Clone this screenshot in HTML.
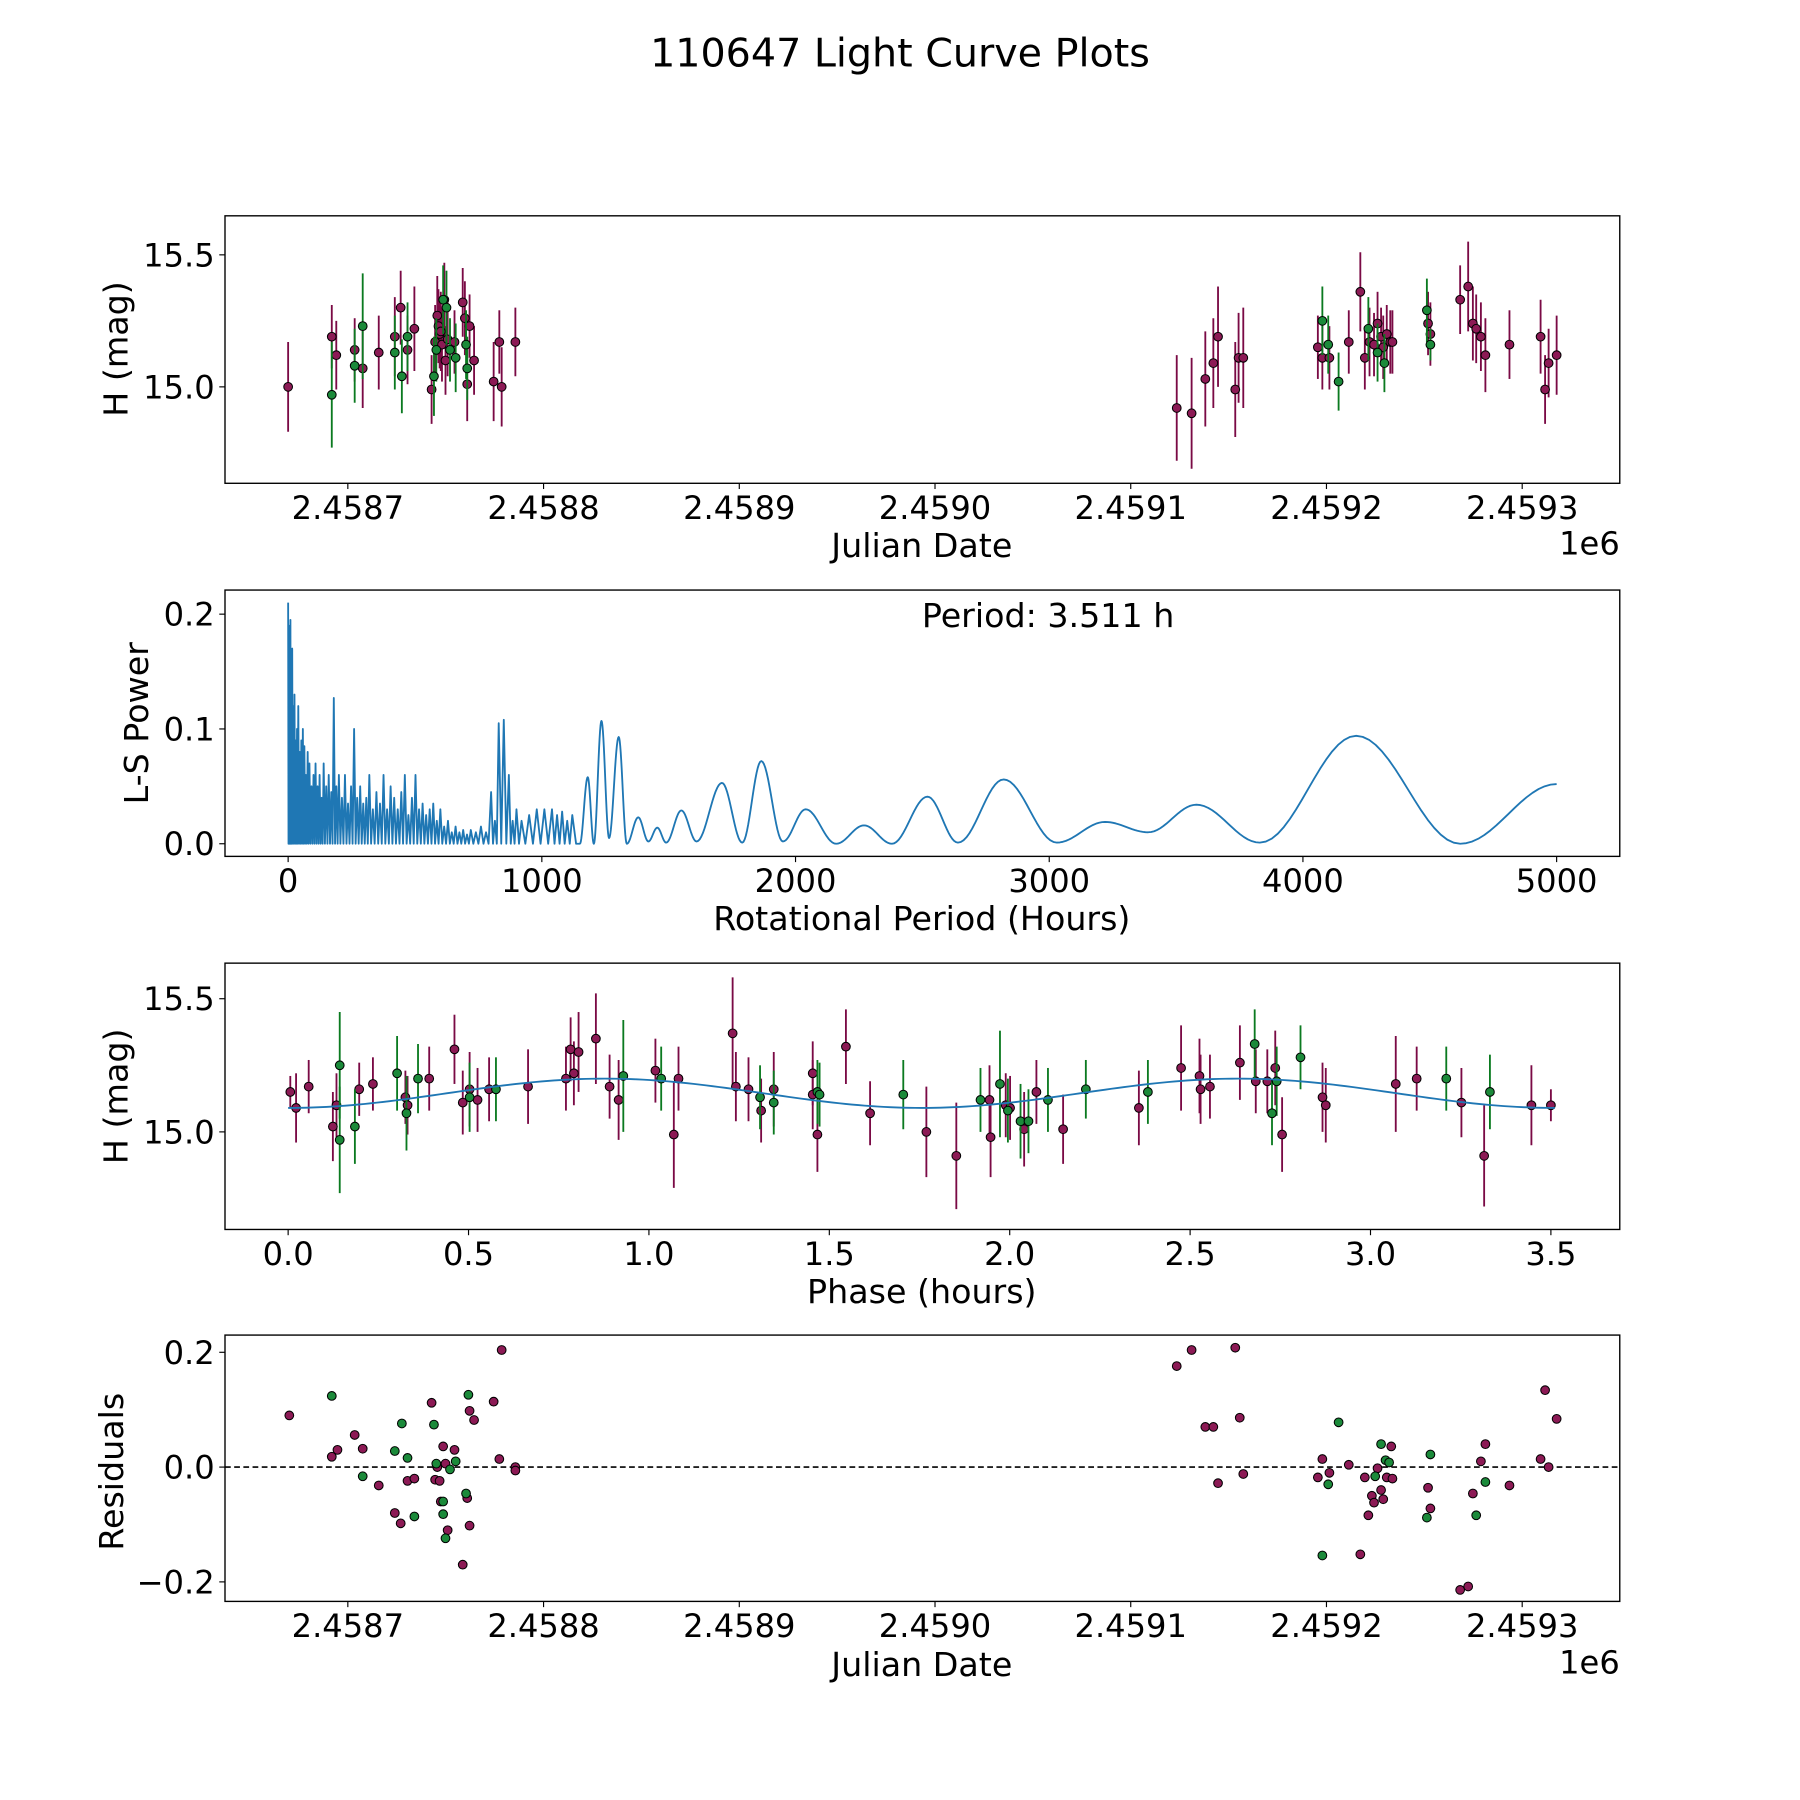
<!DOCTYPE html>
<html><head><meta charset="utf-8"><style>
html,body{margin:0;padding:0;background:#fff;}
svg{display:block;font-family:"DejaVu Sans","Liberation Sans",sans-serif;}
</style></head><body>
<svg id="fig" xmlns="http://www.w3.org/2000/svg" width="1800" height="1800" viewBox="0 0 1568 1568">
<rect width="1568" height="1568" fill="#fff"/>
<text x="784" y="58" font-size="34.5" text-anchor="middle">110647 Light Curve Plots</text>
</svg>
<script>
// ---------- DATA ----------
const JD_BASE = 2458700;
const lcPurpleDays = [-30.5,-8.2,-5.9,3.5,7.6,15.8,24.0,27.0,30.5,34.0,42.8,44.6,45.7,46.3,46.9,47.5,48.1,49.3,49.9,51.0,54.5,58.7,59.8,61.0,62.2,64.5,74.5,77.4,78.6,85.6,
 423.5,431.1,438.1,442.2,444.6,453.4,455.1,457.5,495.6,497.9,501.5,511.4,517.3,519.6,522.0,524.3,526.1,527.9,529.0,530.8,532.6,533.7,551.9,553.1,568.3,572.4,574.8,576.5,578.9,581.2,593.5,609.4,611.7,613.5,617.6];
const lcPurpleMag = [15.00,15.19,15.12,15.14,15.07,15.13,15.19,15.30,15.14,15.22,14.99,15.17,15.27,15.23,15.20,15.21,15.16,15.33,15.10,15.18,15.17,15.32,15.26,15.01,15.23,15.10,15.02,15.17,15.00,15.17,
 14.92,14.90,15.03,15.09,15.19,14.99,15.11,15.11,15.15,15.11,15.11,15.17,15.36,15.11,15.17,15.16,15.24,15.19,15.15,15.20,15.17,15.17,15.24,15.20,15.33,15.38,15.24,15.22,15.19,15.12,15.16,15.19,14.99,15.09,15.12];
const lcPurpleErr = [0.17,0.12,0.13,0.12,0.15,0.14,0.15,0.14,0.13,0.16,0.13,0.14,0.15,0.14,0.13,0.15,0.14,0.14,0.13,0.14,0.12,0.13,0.14,0.14,0.12,0.13,0.15,0.12,0.15,0.13,
 0.20,0.21,0.18,0.17,0.19,0.18,0.17,0.19,0.12,0.12,0.12,0.12,0.15,0.12,0.13,0.12,0.12,0.11,0.12,0.11,0.12,0.12,0.12,0.12,0.13,0.17,0.14,0.13,0.13,0.14,0.13,0.14,0.13,0.13,0.15];
const lcGreenDays = [-8.2,3.5,7.6,24.0,27.6,30.5,44.0,45.2,48.7,50.4,52.2,55.1,60.4,61.0,497.9,500.9,506.2,521.4,526.1,529.6,551.3,553.1];
const lcGreenMag = [14.97,15.08,15.23,15.13,15.04,15.19,15.04,15.14,15.33,15.30,15.14,15.11,15.16,15.07,15.25,15.16,15.02,15.22,15.13,15.09,15.29,15.16];
const lcGreenErr = [0.20,0.14,0.20,0.14,0.14,0.13,0.15,0.12,0.13,0.14,0.12,0.13,0.13,0.12,0.13,0.11,0.11,0.12,0.11,0.11,0.12,0.06];
const lsDensePeriods = [0,3,6,9,12,16,20,25,30,35,40,46,52,58,64,70,77,84,92,100,108,116,124,132,140,150,160,170,180,190,200,212,224,236,248,260,272,284,296,308,320,334,348,362,376,390,404,418,432,446,460,474,488,502,516,530,544,558,572,586,600,615,630,645,660,675,690,705,720,740,760,780,800,815,830,850,870,885,900,920,950,980,1010,1040,1060,1080,1100,1120];
const lsDensePower = [0.21,0.19,0.17,0.195,0.165,0.17,0.12,0.13,0.09,0.1,0.12,0.08,0.09,0.1,0.085,0.06,0.08,0.07,0.05,0.06,0.07,0.05,0.06,0.04,0.07,0.05,0.06,0.045,0.127,0.05,0.06,0.04,0.06,0.035,0.05,0.1,0.04,0.05,0.035,0.04,0.06,0.03,0.045,0.035,0.06,0.03,0.05,0.04,0.03,0.045,0.06,0.025,0.04,0.06,0.03,0.035,0.025,0.03,0.035,0.02,0.03,0.015,0.02,0.01,0.015,0.01,0.012,0.008,0.012,0.01,0.015,0.01,0.045,0.02,0.105,0.108,0.06,0.02,0.03,0.02,0.025,0.03,0.03,0.03,0.025,0.028,0.02,0.025];
const lsSmoothPeriods = [1150,1181,1205,1235,1265,1303,1335,1380,1420,1455,1490,1550,1610,1710,1790,1865,1950,2040,2160,2270,2380,2520,2640,2820,3030,3220,3390,3580,3830,4210,4620,5000];
const lsSmoothPower = [0,0.058,0,0.107,0.005,0.093,0,0.023,0.002,0.014,0.001,0.029,0.002,0.053,0.001,0.072,0.002,0.03,0,0.016,0,0.041,0.001,0.056,0.001,0.019,0.01,0.034,0.001,0.094,0,0.052];
const bestPeriod = 3.511;
const phPurplePhase = [0.006,0.022,0.057,0.124,0.134,0.197,0.235,0.325,0.331,0.391,0.461,0.484,0.503,0.525,0.557,0.665,0.77,0.783,0.792,0.805,0.853,0.891,0.916,1.018,1.069,1.082,1.232,1.241,1.276,1.311,1.346,1.454,1.454,1.467,1.546,1.613,1.769,1.852,1.944,1.947,1.989,2.001,2.04,2.074,2.148,2.358,2.475,2.526,2.529,2.555,2.638,2.682,2.714,2.736,2.755,2.867,2.876,3.07,3.128,3.252,3.315,3.446,3.50];
const phPurpleMag = [15.15,15.09,15.17,15.02,15.10,15.16,15.18,15.13,15.10,15.20,15.31,15.11,15.16,15.12,15.16,15.17,15.20,15.31,15.22,15.30,15.35,15.17,15.12,15.23,14.99,15.20,15.37,15.17,15.16,15.08,15.16,15.22,15.14,14.99,15.32,15.07,15.00,14.91,15.12,14.98,15.10,15.09,15.01,15.15,15.01,15.09,15.24,15.21,15.16,15.17,15.26,15.19,15.19,15.24,14.99,15.13,15.10,15.18,15.20,15.11,14.91,15.10,15.10];
const phPurpleErr = [0.06,0.13,0.1,0.13,0.12,0.1,0.1,0.1,0.11,0.12,0.13,0.12,0.14,0.12,0.12,0.14,0.12,0.12,0.12,0.15,0.17,0.12,0.15,0.12,0.2,0.12,0.21,0.13,0.12,0.12,0.14,0.12,0.13,0.14,0.14,0.12,0.17,0.2,0.13,0.15,0.12,0.12,0.14,0.12,0.13,0.14,0.16,0.14,0.13,0.12,0.14,0.12,0.12,0.14,0.14,0.13,0.14,0.18,0.12,0.13,0.19,0.15,0.06];
const phGreenPhase = [0.143,0.143,0.185,0.302,0.328,0.36,0.503,0.576,0.929,1.034,1.308,1.346,1.467,1.473,1.705,1.919,1.973,1.995,2.03,2.052,2.106,2.211,2.383,2.679,2.727,2.74,2.806,3.21,3.331];
const phGreenMag = [15.25,14.97,15.02,15.22,15.07,15.20,15.13,15.16,15.21,15.20,15.13,15.11,15.15,15.14,15.14,15.12,15.18,15.08,15.04,15.04,15.12,15.16,15.15,15.33,15.07,15.19,15.28,15.20,15.15];
const phGreenErr = [0.2,0.2,0.14,0.14,0.14,0.13,0.13,0.12,0.21,0.12,0.12,0.12,0.12,0.12,0.13,0.12,0.2,0.12,0.14,0.12,0.12,0.11,0.12,0.13,0.12,0.13,0.12,0.12,0.14];
const fitMean = 15.145, fitAmp = 0.055, fitPeriod = 1.755, fitPhase0 = 0.44;
const resPurpleDays = [-29.9,-8.2,-5.3,3.5,7.6,15.8,24,27,30.5,34,42.8,44.6,45.7,46.9,47.5,48.7,49.9,51,54.5,58.7,61,62.2,64.5,62.2,74.5,77.4,78.6,85.6,85.6,
 423.5,431.1,438.1,442.2,444.6,453.4,455.7,457.5,495.6,497.9,501.5,511.4,517.3,519.6,521.4,523.2,524.3,526.1,527.9,529,530.8,533.1,533.7,551.9,553.1,568.3,572.4,574.8,578.9,581.2,593.5,609.4,611.7,613.5,617.6];
const resPurpleVal = [0.09,0.018,0.03,0.056,0.032,-0.032,-0.08,-0.098,-0.024,-0.02,0.112,-0.022,0,-0.024,-0.06,0.036,0.006,-0.11,0.03,-0.17,-0.054,0.098,0.082,-0.102,0.114,0.014,0.204,0,-0.006,
 0.176,0.204,0.07,0.07,-0.028,0.208,0.086,-0.012,-0.018,0.014,-0.01,0.004,-0.152,-0.018,-0.084,-0.05,-0.062,-0.002,-0.04,-0.056,-0.018,0.036,-0.02,-0.036,-0.072,-0.214,-0.208,-0.046,0.01,0.04,-0.032,0.014,0.134,0,0.084];
const resGreenDays = [-8.2,7.6,24,27.6,30.5,34,44,45.2,48.7,49.9,52.2,55.1,60.4,61.6,48.7,497.9,500.9,506.2,524.9,527.9,530.2,532,551.3,553.1,576.5,581.2];
const resGreenVal = [0.124,-0.016,0.028,0.076,0.016,-0.086,0.074,0.006,-0.082,-0.124,-0.004,0.01,-0.046,0.126,-0.06,-0.154,-0.03,0.078,-0.016,0.04,0.012,0.008,-0.088,0.022,-0.084,-0.026];

// ---------- DRAWING ----------
const NS='http://www.w3.org/2000/svg';
const svg=document.getElementById('fig');
function el(tag,attrs,parent){const e=document.createElementNS(NS,tag);for(const k in attrs)e.setAttribute(k,attrs[k]);(parent||svg).appendChild(e);return e;}
const L=196,R=1411;
const TF=28, LF=29;
const PUR='#8c1a55',PURE='#7a0a45',GRN='#1b8a3a',GRNE='#0b7a20',BLUE='#1f77b4';
function lin(d0,d1,p0,p1){return v=>p0+(v-d0)*(p1-p0)/(d1-d0);}

function axesFrame(g,top,bot){
  const r=el('rect',{x:L,y:top,width:R-L,height:bot-top,fill:'none',stroke:'#000','stroke-width':1.2},g);
  
  
}
function xTicks(g,sx,bot,vals,labels,name){
  vals.forEach((v,i)=>{const x=sx(v);
    const t=el('line',{x1:x,x2:x,y1:bot,y2:bot+5,stroke:'#000','stroke-width':1},g);
    
    
    const tx=el('text',{x:x,y:bot+31,'font-size':TF,'text-anchor':'middle'},g);tx.textContent=labels[i];
    
    
  });
}
function yTicks(g,sy,vals,labels,name){
  vals.forEach((v,i)=>{const y=sy(v);
    const t=el('line',{x1:L-5,x2:L,y1:y,y2:y,stroke:'#000','stroke-width':1},g);
    
    
    const tx=el('text',{x:L-9,y:y+10,'font-size':TF,'text-anchor':'end'},g);tx.textContent=labels[i];
    
    
  });
}
function label(g,x,y,txt,name,rot){
  const t=el('text',{x:x,y:y,'font-size':LF,'text-anchor':'middle'},g);t.textContent=txt;
  if(rot)t.setAttribute('transform','rotate(-90 '+x+' '+y+')');
  
  
}
function errPts(g,sx,sy,xs,ys,es,col,ecol,name){
  xs.forEach((xv,i)=>{const x=sx(xv);
    if(es){const b=el('line',{x1:x,x2:x,y1:sy(ys[i]-es[i]),y2:sy(ys[i]+es[i]),stroke:ecol,'stroke-width':1.6},g);
      
      }
  });
  xs.forEach((xv,i)=>{
    const c=el('circle',{cx:sx(xv),cy:sy(ys[i]),r:3.8,fill:col,stroke:'#000','stroke-width':0.9},g);
    
    
  });
}
const jdTickVals=[0,100,200,300,400,500,600];
const jdTickLabels=['2.4587','2.4588','2.4589','2.4590','2.4591','2.4592','2.4593'];

(function(){
  const g=el('g',{});
  const top=188,bot=421;
  const sx=lin(0,600,303,1326), sy=lin(15.0,15.5,337,222);
  errPts(g,sx,sy,lcPurpleDays,lcPurpleMag,lcPurpleErr,PUR,PURE,'purple-filter');
  errPts(g,sx,sy,lcGreenDays,lcGreenMag,lcGreenErr,GRN,GRNE,'green-filter');
  axesFrame(g,top,bot);
  xTicks(g,sx,bot,jdTickVals,jdTickLabels,'x-axis');
  yTicks(g,sy,[15.0,15.5],['15.0','15.5'],'y-axis');
  label(g,803,485,'Julian Date','x-axis-title');
  label(g,111,304,'H (mag)','y-axis-title',true);
  const o=el('text',{x:1411,y:483,'font-size':TF,'text-anchor':'end'},g);o.textContent='1e6';
  
  
})();

(function(){
  const g=el('g',{});
  const top=514,bot=746;
  const sx=lin(0,5000,251,1356), sy=lin(0,0.2,735,535);
  let d='M'+sx(lsDensePeriods[0])+' '+sy(lsDensePower[0]);
  for(let i=0;i<lsDensePeriods.length;i++){
    const p=lsDensePeriods[i], nx=i+1<lsDensePeriods.length?lsDensePeriods[i+1]:lsSmoothPeriods[0];
    d+=' L'+sx(p).toFixed(2)+' '+sy(lsDensePower[i]).toFixed(2)+' L'+sx((p+nx)/2).toFixed(2)+' '+sy(0).toFixed(2);
  }
  for(let i=0;i<lsSmoothPeriods.length-1;i++){
    const p0=lsSmoothPeriods[i],p1=lsSmoothPeriods[i+1],v0=lsSmoothPower[i],v1=lsSmoothPower[i+1];
    for(let k=0;k<=16;k++){const t=k/16,f=(1-Math.cos(Math.PI*t))/2;
      d+=' L'+sx(p0+(p1-p0)*t).toFixed(2)+' '+sy(v0+(v1-v0)*f).toFixed(2);}
  }
  const pth=el('path',{d:d,fill:'none',stroke:BLUE,'stroke-width':1.6,'stroke-linejoin':'round'},g);
  
  
  axesFrame(g,top,bot);
  xTicks(g,sx,bot,[0,1000,2000,3000,4000,5000],['0','1000','2000','3000','4000','5000'],'x-axis');
  yTicks(g,sy,[0,0.1,0.2],['0.0','0.1','0.2'],'y-axis');
  label(g,803,810,'Rotational Period (Hours)','x-axis-title');
  label(g,129,630,'L-S Power','y-axis-title',true);
  const t=el('text',{x:913,y:546,'font-size':LF,'text-anchor':'middle'},g);t.textContent='Period: '+bestPeriod.toFixed(3)+' h';
  
  
})();

(function(){
  const g=el('g',{});
  const top=839,bot=1071;
  const sx=lin(0,3.5,251,1351), sy=lin(15.0,15.5,986,870);
  errPts(g,sx,sy,phPurplePhase,phPurpleMag,phPurpleErr,PUR,PURE,'purple-filter');
  errPts(g,sx,sy,phGreenPhase,phGreenMag,phGreenErr,GRN,GRNE,'green-filter');
  let d='';
  for(let k=0;k<=200;k++){const p=bestPeriod*k/200;const m=fitMean+fitAmp*Math.sin(2*Math.PI*(p-fitPhase0)/fitPeriod);
    d+=(k?' L':'M')+sx(p).toFixed(2)+' '+sy(m).toFixed(2);}
  const f=el('path',{d:d,fill:'none',stroke:BLUE,'stroke-width':1.6},g);
  
  
  axesFrame(g,top,bot);
  xTicks(g,sx,bot,[0,0.5,1,1.5,2,2.5,3,3.5],['0.0','0.5','1.0','1.5','2.0','2.5','3.0','3.5'],'x-axis');
  yTicks(g,sy,[15.0,15.5],['15.0','15.5'],'y-axis');
  label(g,803,1135,'Phase (hours)','x-axis-title');
  label(g,111,955,'H (mag)','y-axis-title',true);
})();

(function(){
  const g=el('g',{});
  const top=1163,bot=1395;
  const sx=lin(0,600,303,1326), sy=lin(0,0.2,1278,1178);
  const z=el('line',{x1:L,x2:R,y1:sy(0),y2:sy(0),stroke:'#000','stroke-width':1.4,'stroke-dasharray':'5,3'},g);
  
  
  errPts(g,sx,sy,resPurpleDays,resPurpleVal,null,PUR,PURE,'purple-residual');
  errPts(g,sx,sy,resGreenDays,resGreenVal,null,GRN,GRNE,'green-residual');
  axesFrame(g,top,bot);
  xTicks(g,sx,bot,jdTickVals,jdTickLabels,'x-axis');
  yTicks(g,sy,[-0.2,0,0.2],['\u22120.2','0.0','0.2'],'y-axis');
  label(g,803,1460,'Julian Date','x-axis-title');
  label(g,107,1282,'Residuals','y-axis-title',true);
  const o=el('text',{x:1411,y:1458,'font-size':TF,'text-anchor':'end'},g);o.textContent='1e6';
  
  
})();
</script>
</body></html>
